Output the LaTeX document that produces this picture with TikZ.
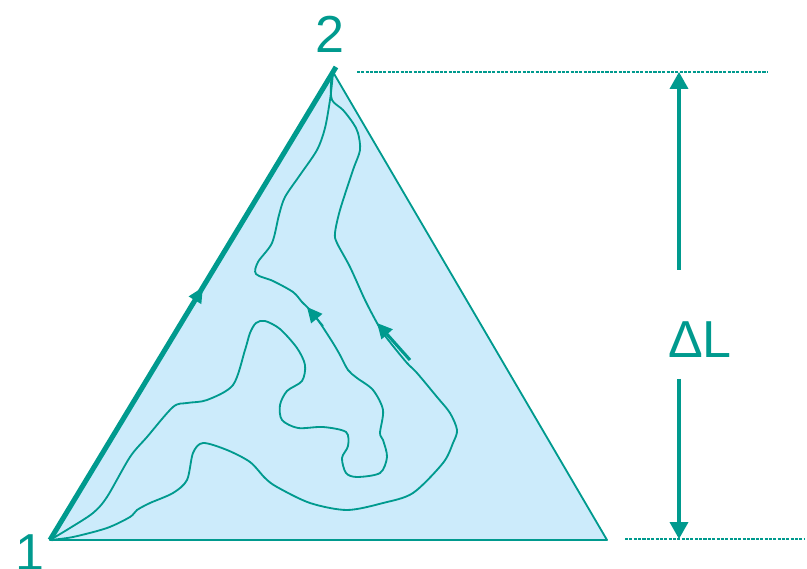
\documentclass[tikz,border=0pt]{standalone}
\usepackage{fontspec}
\setmainfont{Liberation Sans}
\definecolor{trayTeal}{HTML}{009A8E}
\definecolor{trayCielo}{HTML}{CCEBFB}
\usetikzlibrary{
	arrows.meta,
	positioning,
	calc
}
\tikzset{
	etiqueta/.style={
		text=trayTeal,
		inner sep=0pt,
		font=\fontsize{37}{40}\selectfont
	},
	camino/.style={
		draw=trayTeal,
		line width=1.3pt,
		line join=round
	},
	borde/.style={
		draw=trayTeal,
		line width=1.3pt,
		fill=trayCielo,
		line join=round
	},
	flecha/.style={
		-{Triangle[length=0.42cm,width=0.45cm]},
		line width=2.2pt,
		trayTeal
	},
	flechita/.style={
		-{Triangle[length=0.38cm,width=0.36cm]},
		line width=1.3pt,
		trayTeal
	},
	punteada/.style={
		draw=trayTeal,
		line width=1.4pt,
		dash pattern=on 2.2pt off 0.9pt
	}
}

\begin{document}
\begin{tikzpicture}[x=0.025cm,y=-0.025cm]
		\useasboundingbox (0,0) rectangle (807,569);
		\coordinate (v1) at (50,540);
		\coordinate (v2) at (333,72);
		\coordinate (v3) at (607,540);
		\coordinate (v2b) at (336,67);
		\path[borde] (v1) -- (v2) -- (v3) -- cycle;
		\draw[camino] plot[smooth, tension=0.5] coordinates {(50,540) (70,528) (93,513) (107,497) (130,457) (147,437) (173,407) (187,403) (207,400) (233,385) (245,350) (250,333) (256,323) (265,321) (280,329) (297,348) (305,365) (302,381) (287,391) (280,405) (282,420) (298,428) (323,427) (346,432) (348,446) (342,458) (346,473) (357,477) (380,473) (387,457) (383,440) (380,433) (383,410) (373,390) (357,378) (348,370) (340,355) (333,343) (320,323) (310,310) (302,302) (293,292) (273,281) (256,274) (258,262) (272,243) (279,215) (285,197) (300,175) (317,150) (325,128) (330,100) (332,83) (333,73)};
		\draw[camino] plot[smooth, tension=0.5] coordinates {(50,540) (73,537) (107,528) (130,517) (137,510) (150,503) (173,493) (187,480) (193,453) (203,443) (227,450) (250,462) (265,478) (277,487) (310,503) (347,510) (383,503) (413,493) (443,463) (453,443) (457,430) (450,413) (437,397) (417,373) (407,363) (393,346) (383,333) (377,323) (365,300) (350,267) (337,243) (335,233) (340,210) (353,170) (360,150) (358,133) (353,123) (343,110) (332,100) (331,83) (333,73)};
		\draw[trayTeal, line width=3.6pt] (v1) -- (v2b);
		\coordinate (a1) at ($(v1)!0.51!(v2)$);
		\coordinate (a2) at ($(v1)!0.54!(v2)$);
		\draw[flechita] (a1) -- (a2);
		\coordinate (b1) at (323,326);
		\coordinate (b2) at (307,307);
		\draw[flechita] (b1) -- (b2);
		\coordinate (c1) at (410,360);
		\coordinate (c2) at (377,323);
		\draw[flechita, line width=2.2pt] (c1) -- (c2);
		\node[etiqueta] (n1) at (30,553) {1};
		\node[etiqueta] (n2) at (330,34) {2};
		\node[etiqueta] (dL) at (700,340) {ΔL};
		\coordinate (arriba) at (679,72);
		\coordinate (abajo) at (679,539);
		\coordinate (t1) at (357,72);
		\coordinate (t2) at (767,72);
		\coordinate (b3) at (625,539);
		\coordinate (b4) at (805,539);
		\draw[punteada] (t1) -- (t2);
		\draw[punteada] (b3) -- (b4);
		\draw[flecha] (679,270) -- (arriba);
		\draw[flecha] (679,379) -- (abajo);
	\end{tikzpicture}
\end{document}
